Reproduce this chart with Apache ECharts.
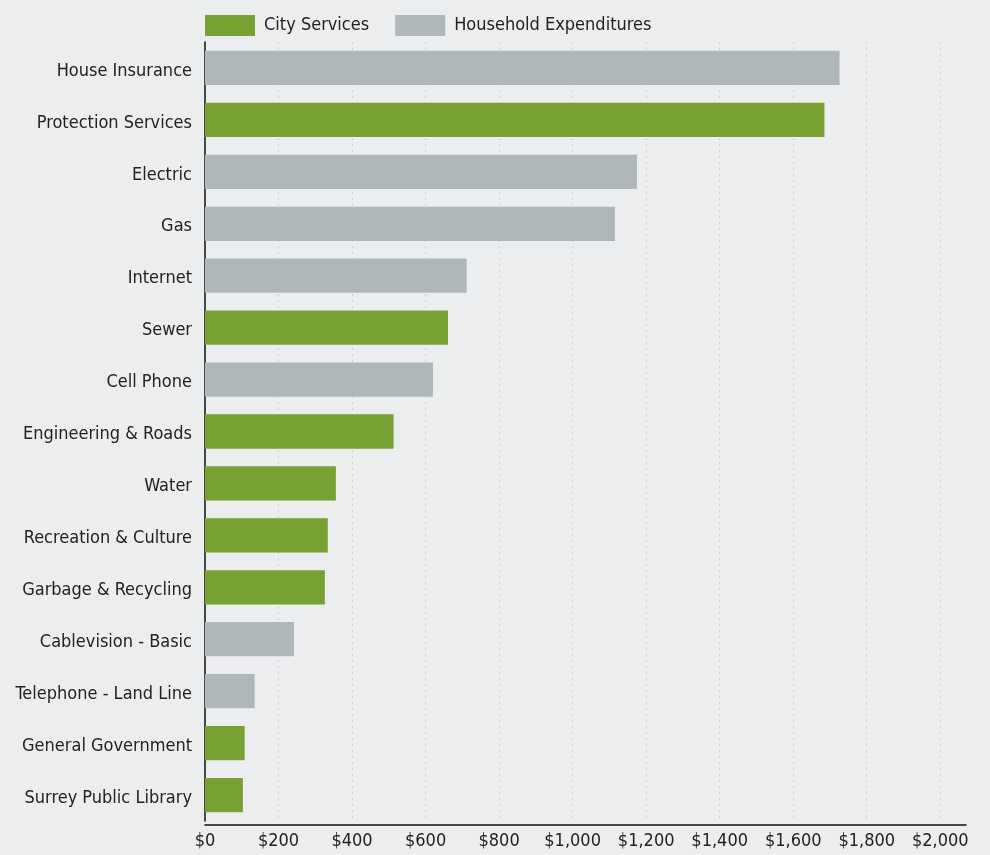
<!DOCTYPE html>
<html>
<head>
<meta charset="utf-8">
<script src="https://cdn.jsdelivr.net/npm/echarts@6/dist/echarts.min.js"></script>
<style>
  html, body { margin: 0; padding: 0; background: #ecedef; }
  #chart { width: 990px; height: 855px; }
</style>
</head>
<body>
<div id="chart"></div>
<script>
const categories = [
  'House Insurance', 'Protection Services', 'Electric', 'Gas', 'Internet',
  'Sewer', 'Cell Phone', 'Engineering & Roads', 'Water', 'Recreation & Culture',
  'Garbage & Recycling', 'Cablevision - Basic', 'Telephone - Land Line',
  'General Government', 'Surrey Public Library'
];
const cityServices = ['-', 1685, '-', '-', '-', 661, '-', 513, 356, 334, 326, '-', '-', 108, 103];
const householdExpenditures = [1726, '-', 1175, 1115, 712, '-', 620, '-', '-', '-', '-', 242, 135, '-', '-'];
const seriesNames = ['City Services', 'Household Expenditures'];

const FONT = '"Liberation Sans Narrow", "DejaVu Sans Condensed", "Roboto", sans-serif';
const chart = echarts.init(document.getElementById('chart'), null, { renderer: 'canvas' });
chart.setOption({
  backgroundColor: '#ecedef',
  animation: false,
  textStyle: { fontFamily: FONT },
  legend: {
    left: 205,
    top: 15,
    padding: 0,
    itemWidth: 50,
    itemHeight: 21,
    itemGap: 26,
    icon: 'rect',
    textStyle: { fontFamily: FONT, fontSize: 18, color: '#222', padding: [3, 0, 0, 4] },
    data: seriesNames
  },
  grid: { left: 205, right: 24, top: 42, bottom: 34, outerBoundsMode: 'none', containLabel: false },
  xAxis: {
    type: 'value',
    min: 0,
    max: 2070,
    interval: 200,
    offset: 4,
    axisLine: { show: true, lineStyle: { color: '#111', width: 1.5 } },
    axisTick: { show: false },
    splitLine: { show: true, showMaxLine: false, lineStyle: { color: '#d0d1d3', type: [2, 4], width: 1 } },
    axisLabel: {
      fontFamily: FONT, fontSize: 18, color: '#222', margin: 7,
      showMaxLabel: false,
      formatter: v => (v % 200 === 0 ? '$' + v.toLocaleString('en-US') : '')
    }
  },
  yAxis: {
    type: 'category',
    data: categories,
    inverse: true,
    axisLine: { show: true, lineStyle: { color: '#111', width: 1.5 } },
    axisTick: { show: false },
    splitLine: { show: false },
    axisLabel: { fontFamily: FONT, fontSize: 18, color: '#222', margin: 13, verticalAlign: 'top', lineHeight: 6 }
  },
  series: [
    {
      name: seriesNames[0], type: 'bar', stack: 'all', data: cityServices,
      barCategoryGap: '34%',
      itemStyle: { color: '#77a132' }
    },
    {
      name: seriesNames[1], type: 'bar', stack: 'all', data: householdExpenditures,
      barCategoryGap: '34%',
      itemStyle: { color: '#b0b7ba' }
    }
  ]
});
</script>
</body>
</html>
